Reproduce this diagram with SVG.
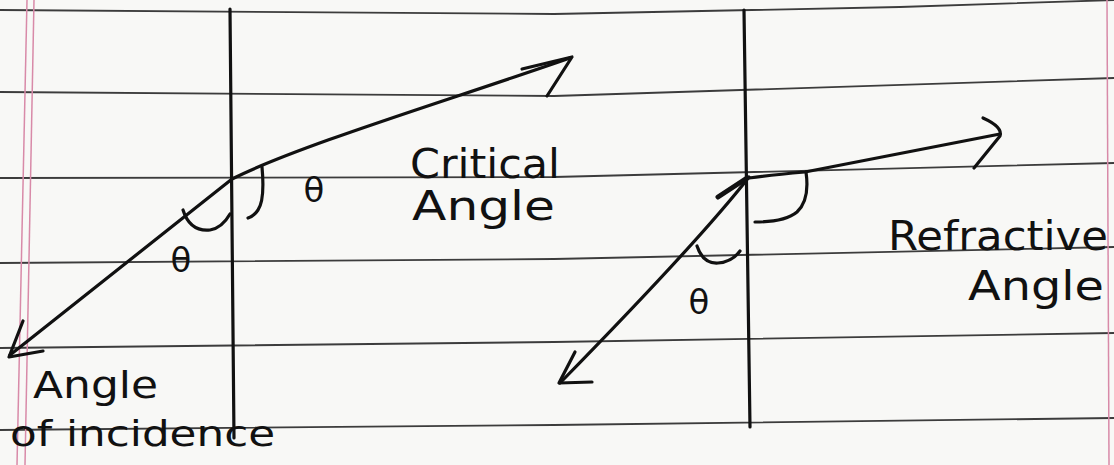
<svg xmlns="http://www.w3.org/2000/svg" width="1114" height="465" viewBox="0 0 1114 465">
<style>
.rule{fill:none;stroke:#3c3c3c;stroke-width:1.8}
.margin{fill:none;stroke:#d88aa8;stroke-width:1.5}
.ink{fill:none;stroke:#111;stroke-width:3.2;stroke-linecap:round;stroke-linejoin:round}
.lbl{font-family:"DejaVu Sans","Liberation Sans",sans-serif;fill:#111;font-size:40px}
.th{font-family:"DejaVu Sans",sans-serif;fill:#111;font-size:34px;text-anchor:middle}
</style>
<rect width="1114" height="465" fill="#f8f8f6"/>
<g id="paper">
<path class="rule" d="M0,10 L554,14 L900,7 L1114,0"/>
<path class="rule" d="M0,92 L554,96 L1114,78"/>
<path class="rule" d="M0,178 L554,177 L1114,163"/>
<path class="rule" d="M0,263 L554,259 L1114,247"/>
<path class="rule" d="M0,348 L554,342 L1114,333"/>
<path class="rule" d="M0,430 L554,425 L1114,418"/>
<path class="margin" d="M27,0 L17,465"/>
<path class="margin" d="M34,0 L25,465"/>
<path class="margin" d="M1107,0 L1109,465"/>
</g>
<g id="boundary-left"><path class="ink" d="M230,9 L234,438"/></g>
<g id="boundary-right"><path class="ink" d="M744,10 L750,427"/></g>
<g id="connectors">
<path class="ink" d="M232,179 L10,355"/>
<path class="ink" d="M23,321 L9,357 L43,351"/>
<path class="ink" d="M232,179 C300,145 450,100 570,58"/>
<path class="ink" d="M522,69 L572,57 L547,96"/>
<path class="ink" d="M749,177 Q700,240 560,383"/>
<path class="ink" d="M575,352 L559,383 L592,382"/>
<path class="ink" style="stroke-width:5" d="M718,197 L747,178"/>
<path class="ink" d="M749,178 Q770,175 805,172 L1000,134"/>
<path class="ink" d="M983,118 Q1003,127 1000,136 L974,168"/>
</g>
<g id="angle-arcs">
<path class="ink" d="M183,210 Q190,232 210,230 Q222,228 230,214"/>
<path class="ink" d="M262,167 Q265,200 258,210 Q254,216 248,218"/>
<path class="ink" d="M806,172 Q810,200 797,212 Q785,222 755,222"/>
<path class="ink" d="M697,246 Q703,264 718,263 Q732,262 740,251"/>
</g>
<g id="theta-1"><text class="th" x="181" y="272">θ</text></g>
<g id="theta-2"><text class="th" x="314" y="202">θ</text></g>
<g id="theta-3"><text class="th" x="699" y="314">θ</text></g>
<g id="label-critical">
<text class="lbl" x="410" y="178" textLength="150" lengthAdjust="spacingAndGlyphs">Critical</text>
<text class="lbl" x="412" y="220" textLength="143" lengthAdjust="spacingAndGlyphs">Angle</text>
</g>
<g id="label-incidence">
<text class="lbl" x="33" y="398" textLength="125" lengthAdjust="spacingAndGlyphs" style="font-size:38px">Angle</text>
<text class="lbl" x="10" y="446" textLength="265" lengthAdjust="spacingAndGlyphs" style="font-size:36px">of incidence</text>
</g>
<g id="label-refractive">
<text class="lbl" x="888" y="250" textLength="220" lengthAdjust="spacingAndGlyphs">Refractive</text>
<text class="lbl" x="968" y="300" textLength="136" lengthAdjust="spacingAndGlyphs">Angle</text>
</g>
</svg>
